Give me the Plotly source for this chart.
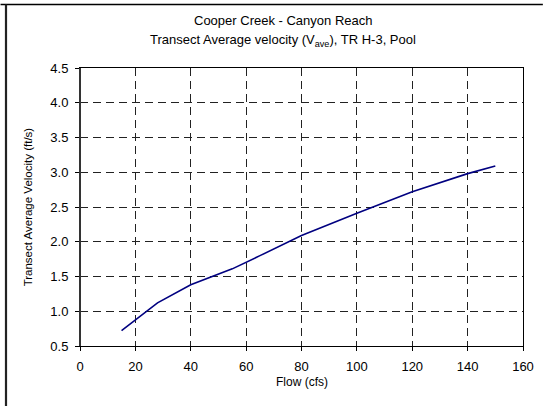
import plotly.graph_objects as go

flow = [15, 20, 28, 40, 55, 65, 80, 100, 110, 120, 140, 150]
velocity = [0.72, 0.87, 1.12, 1.38, 1.61, 1.80, 2.09, 2.41, 2.57, 2.72, 2.98, 3.09]

x_ticks = [0, 20, 40, 60, 80, 100, 120, 140, 160]
y_ticks = [0.5, 1.0, 1.5, 2.0, 2.5, 3.0, 3.5, 4.0, 4.5]

title_1 = "Cooper Creek - Canyon Reach"
title_2 = "Transect Average velocity (V<sub>ave</sub>), TR H-3, Pool"
x_title = "Flow (cfs)"
y_title = "Transect Average Velocity (ft/s)"

W, H = 546, 406
L, R, T, B = 80, 20, 68, 60
pw, ph = W - L - R, H - T - B

def px_x(p):
    return (p - L) / pw

def px_y(p):
    return (H - B - p) / ph

fig = go.Figure()
fig.add_trace(go.Scatter(x=flow, y=velocity, mode="lines",
                         line=dict(color="#000080", width=1.6), showlegend=False))

font = "Arial, Liberation Sans, sans-serif"
grid = dict(showgrid=True, gridcolor="#222222", griddash="8px,5px", gridwidth=1,
            showline=True, linecolor="black", linewidth=1, mirror=True,
            ticks="outside", ticklen=4, tickcolor="black", zeroline=False,
            tickfont=dict(size=13, family=font, color="black"))
fig.update_layout(
    width=W, height=H,
    margin=dict(l=L, r=R, t=T, b=B),
    paper_bgcolor="white", plot_bgcolor="white",
    font=dict(family=font, size=12, color="black"),
    xaxis=dict(range=[0, 160], tickvals=x_ticks, ticktext=[str(v) for v in x_ticks],
               ticklabelstandoff=4, **grid),
    yaxis=dict(range=[0.5, 4.5], tickvals=y_ticks, ticktext=[f"{v:.1f}" for v in y_ticks],
               ticklabelstandoff=4, **grid),
)

anno = []
anno.append(dict(text=title_1, x=0.52, xref="paper" if False else "x domain", y=px_y(21),
                 yref="y domain", showarrow=False, xanchor="center", yanchor="middle",
                 font=dict(size=13, family=font, color="black")))
anno[-1]["xref"] = "paper"; anno[-1]["x"] = px_x(284); anno[-1]["yref"] = "paper"
anno.append(dict(text=title_2, x=px_x(284), xref="paper", y=px_y(41), yref="paper",
                 showarrow=False, xanchor="center", yanchor="middle",
                 font=dict(size=13, family=font, color="black")))
anno.append(dict(text=x_title, x=0.5, xref="paper", y=px_y(382), yref="paper",
                 showarrow=False, xanchor="center", yanchor="middle",
                 font=dict(size=12, family=font, color="black")))
anno.append(dict(text=y_title, x=px_x(28), xref="paper", y=0.5, yref="paper",
                 showarrow=False, xanchor="center", yanchor="middle", textangle=-90,
                 font=dict(size=11.5, family=font, color="black")))
fig.update_layout(annotations=anno)

# thicker left axis line
fig.add_shape(type="line", xref="paper", yref="paper", x0=0, x1=0, y0=0, y1=1,
              line=dict(color="#333333", width=2))
# outer frame lines (top and left)
fig.add_shape(type="line", xref="paper", yref="paper",
              x0=px_x(0), x1=px_x(W), y0=px_y(4.5), y1=px_y(4.5),
              line=dict(color="black", width=1.5))
fig.add_shape(type="line", xref="paper", yref="paper",
              x0=px_x(5.5), x1=px_x(5.5), y0=px_y(H), y1=px_y(4.5),
              line=dict(color="#222222", width=2.2))

fig.write_html("out.html")
